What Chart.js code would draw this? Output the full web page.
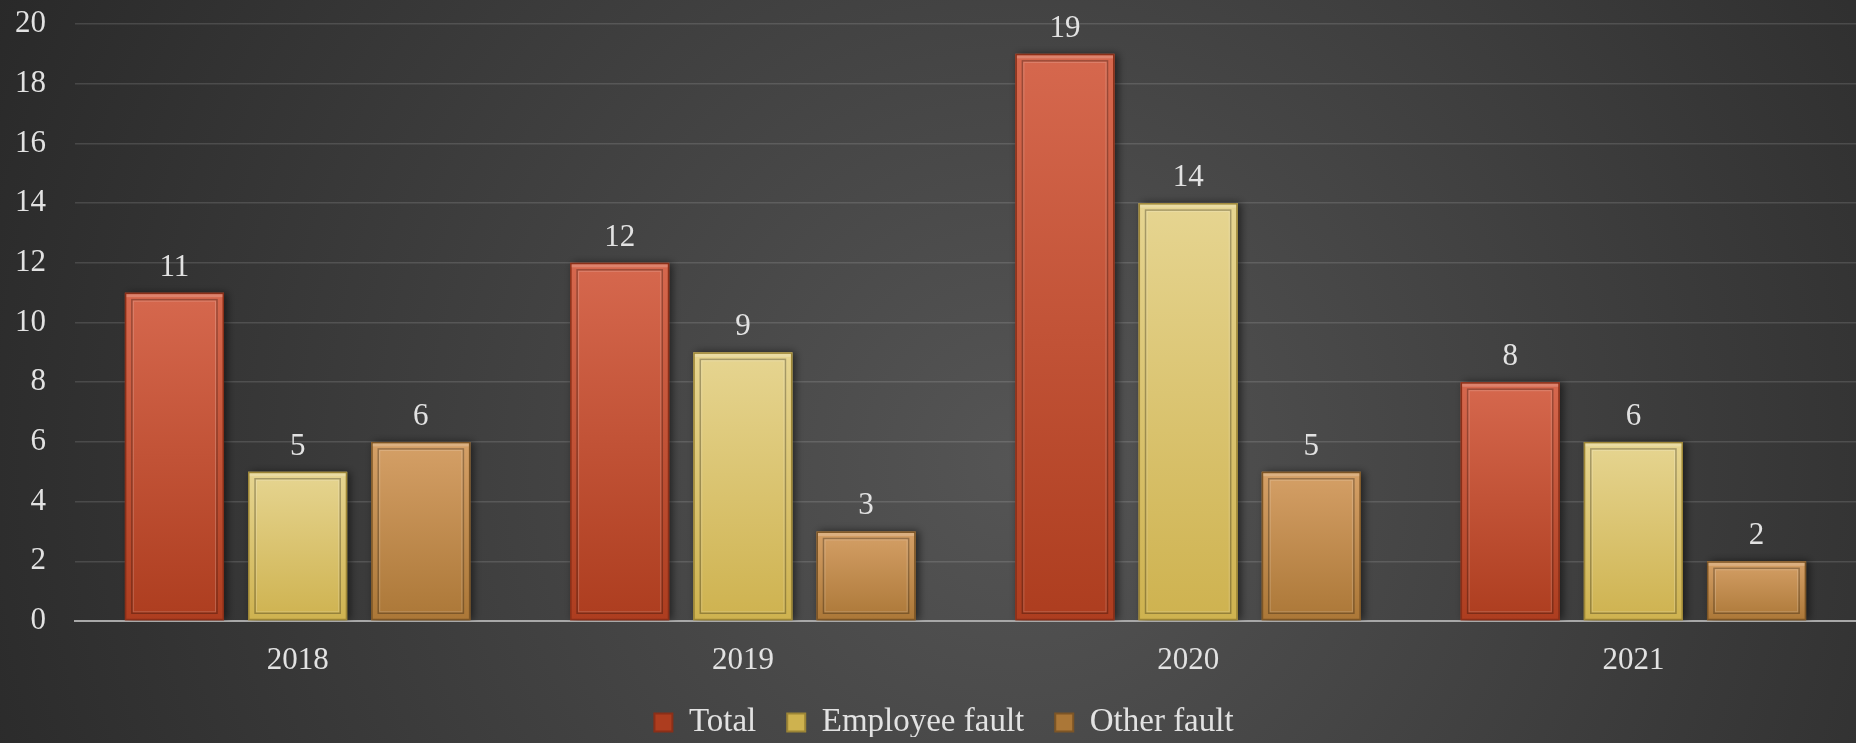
<!DOCTYPE html>
<html>
<head>
<meta charset="utf-8">
<script src="https://cdn.jsdelivr.net/npm/chart.js@4"></script>
<style>
  html, body { margin: 0; padding: 0; background: #2b2b2b; }
  #wrap { width: 1856px; height: 743px; position: relative; }
</style>
</head>
<body>
<div id="wrap"><canvas id="chart"></canvas></div>
<script>
const years = ["2018", "2019", "2020", "2021"];
const totalValues = [11, 12, 19, 8];
const employeeValues = [5, 9, 14, 6];
const otherValues = [6, 3, 5, 2];
const yMax = 20;
const yStep = 2;

const FONT = "'Liberation Serif', 'DejaVu Serif', serif";
const TEXT = "#e2e2e2";

// top, bottom and edge colours for each series
const palette = {
  total: ["#d6684e", "#ad3d1f", "#8a2f18"],
  employee: ["#e6d591", "#ceb24f", "#9c8536"],
  other: ["#d5a067", "#ab7737", "#7c5526"],
};

function barFill(cols) {
  return (ctx) => {
    const chart = ctx.chart;
    const y = chart.scales.y;
    if (!y || !ctx.parsed) return cols[1];
    const top = y.getPixelForValue(ctx.parsed.y);
    const bottom = y.getPixelForValue(0);
    if (!isFinite(top) || !isFinite(bottom) || top === bottom) return cols[1];
    const g = chart.ctx.createLinearGradient(0, top, 0, bottom);
    g.addColorStop(0, cols[0]);
    g.addColorStop(1, cols[1]);
    return g;
  };
}

const backgroundPlugin = {
  id: "bg",
  beforeDraw(chart) {
    const { ctx, width, height } = chart;
    ctx.save();
    const g = ctx.createRadialGradient(width * 0.55, height * 0.62, 0, width * 0.55, height * 0.62, width * 0.62);
    g.addColorStop(0, "#555555");
    g.addColorStop(1, "#282828");
    ctx.fillStyle = g;
    ctx.fillRect(0, 0, width, height);
    ctx.restore();
  },
};

const barDecor = {
  id: "barDecor",
  beforeDatasetsDraw(chart) {
    const ctx = chart.ctx;
    ctx.save();
    ctx.shadowColor = "rgba(0,0,0,0.55)";
    ctx.shadowBlur = 8;
    ctx.shadowOffsetX = 3;
    ctx.shadowOffsetY = 0;
  },
  afterDatasetsDraw(chart) {
    const ctx = chart.ctx;
    ctx.restore();
    // bevel + value labels
    chart.data.datasets.forEach((ds, i) => {
      const meta = chart.getDatasetMeta(i);
      meta.data.forEach((bar, j) => {
        const l = bar.x - bar.width / 2;
        const r = bar.x + bar.width / 2;
        const t = bar.y;
        const b = bar.base;
        ctx.save();
        ctx.lineWidth = 1.5;
        ctx.strokeStyle = ds.edgeColor;
        ctx.strokeRect(l + 0.75, t + 0.75, r - l - 1.5, b - t - 1.5);
        ctx.strokeStyle = "rgba(0,0,0,0.28)";
        ctx.strokeRect(l + 7, t + 7, r - l - 14, b - t - 14);
        ctx.strokeStyle = "rgba(255,255,255,0.18)";
        ctx.lineWidth = 1;
        ctx.strokeRect(l + 8.5, t + 8.5, r - l - 17, b - t - 17);
        ctx.fillStyle = "rgba(255,255,255,0.18)";
        ctx.fillRect(l + 1.5, t + 1.5, r - l - 3, 3);
        ctx.restore();

        ctx.save();
        ctx.fillStyle = TEXT;
        ctx.font = "31px " + FONT;
        ctx.textAlign = "center";
        ctx.textBaseline = "alphabetic";
        ctx.fillText(String(ds.data[j]), bar.x, t - 17);
        ctx.restore();
      });
    });
  },
};

// legend: fixed height and a small shift to the right
const legendTweak = {
  id: "legendTweak",
  beforeLayout(chart) {
    const lg = chart.legend;
    if (lg && !lg._patched) {
      const fit = lg.fit.bind(lg);
      lg.fit = function () {
        fit();
        this.height = 62;
      };
      lg._patched = true;
    }
  },
  afterLayout(chart) {
    const lg = chart.legend;
    if (lg) {
      lg.left += 16;
      lg.right += 16;
    }
  },
};

function dataset(label, values, cols) {
  return {
    label: label,
    data: values,
    backgroundColor: barFill(cols),
    borderWidth: 0,
    edgeColor: cols[2],
    legendFill: cols[1],
  };
}

new Chart(document.getElementById("chart"), {
  type: "bar",
  data: {
    labels: years,
    datasets: [
      dataset("Total", totalValues, palette.total),
      dataset("Employee fault", employeeValues, palette.employee),
      dataset("Other fault", otherValues, palette.other),
    ],
  },
  options: {
    responsive: true,
    maintainAspectRatio: false,
    animation: false,
    categoryPercentage: 0.83,
    barPercentage: 0.805,
    layout: { padding: { top: 24, left: 0, right: 0, bottom: 6 } },
    plugins: {
      tooltip: { enabled: false },
      legend: {
        position: "bottom",
        labels: {
          color: TEXT,
          font: { family: FONT, size: 33 },
          boxWidth: 18,
          boxHeight: 18,
          padding: 31,
          generateLabels(chart) {
            return chart.data.datasets.map((ds, i) => ({
              text: ds.label,
              fillStyle: ds.legendFill,
              strokeStyle: ds.edgeColor,
              lineWidth: 2,
              fontColor: TEXT,
              hidden: false,
              datasetIndex: i,
            }));
          },
        },
      },
    },
    scales: {
      x: {
        grid: { display: false },
        border: { color: "#a8a8a8", width: 2 },
        ticks: { color: TEXT, font: { family: FONT, size: 31 }, padding: 13 },
        afterFit(scale) {
          scale.height = 54;
        },
      },
      y: {
        min: 0,
        max: yMax,
        grid: { color: "rgba(255,255,255,0.13)", lineWidth: 1.5, drawTicks: false },
        border: { display: false },
        ticks: { stepSize: yStep, color: TEXT, font: { family: FONT, size: 31 }, padding: 29 },
        afterFit(scale) {
          scale.width = 75;
          scale.paddingTop = 0;
          scale.paddingBottom = 0;
        },
      },
    },
  },
  plugins: [backgroundPlugin, barDecor, legendTweak],
});
</script>
</body>
</html>
